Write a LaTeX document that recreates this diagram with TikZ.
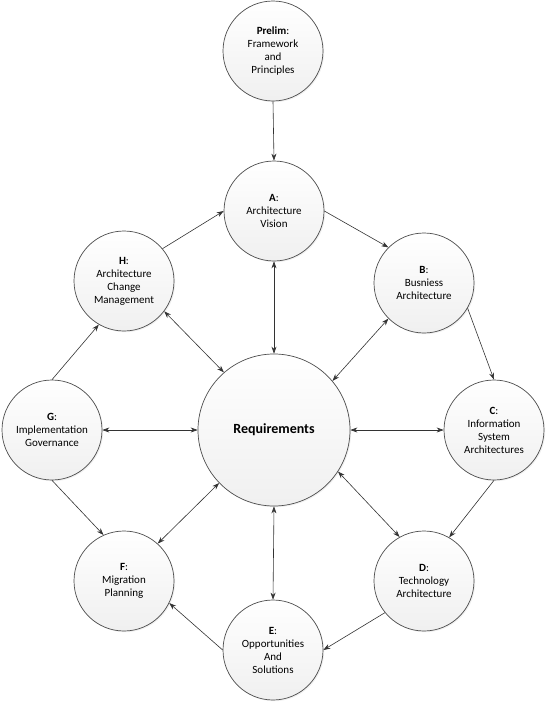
\documentclass[tikz,border=0pt]{standalone}
\usepackage{fontspec}
\setmainfont{Carlito}
\usetikzlibrary{arrows.meta,shadows}

\begin{document}
\begin{tikzpicture}[x=1pt,y=-1pt,
	phase/.style={circle,draw=black!70,line width=0.7pt,minimum size=100pt,inner sep=0pt,align=center,
		top color=white,bottom color=black!6,
		drop shadow={opacity=0.12,shadow xshift=1.2pt,shadow yshift=-1.2pt},
		font=\fontsize{11}{13}\selectfont},
	flow/.style={draw=black!80,line width=0.6pt,-{Stealth[length=7pt,width=5pt]}},
	both/.style={flow,{Stealth[length=7pt,width=5pt]}-{Stealth[length=7pt,width=5pt]}}]
	
	\useasboundingbox (0,0) rectangle (548,704);
	
	%Vorphase
	\node[phase] (prelim) at (273,51) {\textbf{Prelim}:\\Framework\\and\\Principles};
	
	%Phasen A bis H
	\node[phase] (a) at (274,211) {\textbf{A}:\\Architecture\\Vision};
	\node[phase] (b) at (424,283) {\textbf{B}:\\Busniess\\Architecture};
	\node[phase] (c) at (494,430) {\textbf{C}:\\Information\\System\\Architectures};
	\node[phase] (d) at (424,581) {\textbf{D}:\\Technology\\Architecture};
	\node[phase] (e) at (273,650) {\textbf{E}:\\Opportunities\\And\\Solutions};
	\node[phase] (f) at (124,581) {\textbf{F}:\\Migration\\Planning};
	\node[phase] (g) at (52,430) {\textbf{G}:\\Implementation\\Governance};
	\node[phase] (h) at (124,281) {\textbf{H}:\\Architecture\\Change\\Management};
	
	%Mitte
	\node[phase,minimum size=152pt,font=\fontsize{14}{16}\selectfont\bfseries] (req) at (274,430) {Requirements};
	
	%Zyklus
	\draw[flow] (prelim.south) -- (a.north);
	\draw[flow] (a.east) -- (b.135);
	\draw[flow] (b.-30) -- (c.north);
	\draw[flow] (c.south) -- (d.60);
	\draw[flow] (d.219) -- (e.east);
	\draw[flow] (e.west) -- (f.-26);
	\draw[flow] (g.south) -- (f.114);
	\draw[flow] (g.north) -- (h.240);
	\draw[flow] (h.40) -- (a.west);
	
	%Requirements
	\draw[both] (a.south) -- (req.north);
	\draw[both] (b.225) -- (req.40);
	\draw[both] (req.east) -- (c.west);
	\draw[both] (req.-33) -- (d.119);
	\draw[both] (req.south) -- (e.north);
	\draw[both] (req.224) -- (f.48);
	\draw[both] (g.east) -- (req.west);
	\draw[both] (h.-37) -- (req.131);
	
\end{tikzpicture}
\end{document}
